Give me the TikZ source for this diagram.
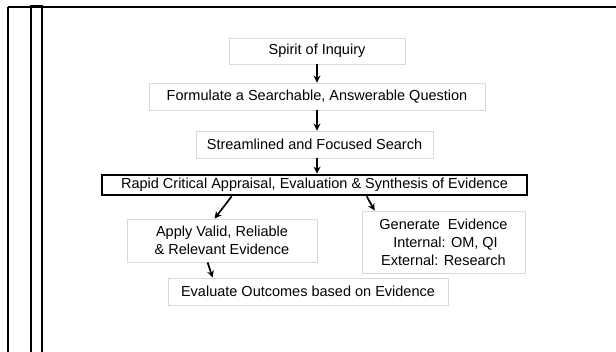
\documentclass[tikz,border=0pt]{standalone}
\usepackage{fontspec}
\setmainfont{Liberation Sans}
\usetikzlibrary{arrows.meta,calc}
\begin{document}
\begin{tikzpicture}[x=1pt,y=-1pt,
  box/.style={draw=black!15, line width=0.8pt, fill=white, inner sep=0pt, align=center,
     font=\fontsize{14.5pt}{18pt}\selectfont},
  arr/.style={line width=1.7pt, -{Stealth[length=7pt,width=7pt]}},
  frame/.style={line width=1.5pt}]
\useasboundingbox (0,0) rectangle (616,352);
% frame
\draw[frame, line width=2.2pt] (8,7) -- (616,7);
\draw[frame] (8,7) -- (8,352);
\draw[frame] (31,352) -- (31,5.5) -- (42,5.5) -- (42,352);
% nodes
\node[box, minimum width=176pt, minimum height=26pt] (spirit) at (317,51) {Spirit of Inquiry};
\node[box, minimum width=336pt, minimum height=27pt] (form) at (317,96.5) {Formulate a Searchable, Answerable Question};
\node[box, minimum width=237pt, minimum height=27pt] (stream) at (314.5,144.5) {Streamlined and Focused Search};
\node[box, draw=black, line width=2.6pt, minimum width=425pt, minimum height=20pt] (rapid) at (314.5,185) {Rapid Critical Appraisal, Evaluation \& Synthesis of Evidence};
\node[box, minimum width=190pt, minimum height=43pt] (apply) at (222,240.5) {Apply Valid, Reliable\\\& Relevant Evidence};
\node[box, minimum width=163pt, minimum height=62pt] (gen) at (443.5,242) {Generate\ \ Evidence\\\ Internal: OM, QI\\External: Research};
\node[box, minimum width=280pt, minimum height=27pt] (eval) at (308,291.5) {Evaluate Outcomes based on Evidence};
% connectors
\draw[arr] (spirit.south) -- (spirit.south |- form.north);
\draw[arr] (form.south) -- (form.south |- stream.north);
\draw[arr] (form.south |- stream.south) -- (form.south |- rapid.north);
\draw[arr] ([xshift=131pt]rapid.south west) -- ([xshift=88pt]apply.north west);
\draw[arr] ([xshift=266pt]rapid.south west) -- ([xshift=13pt]gen.north west);
\draw[arr] ([xshift=81pt]apply.south west) -- ([xshift=45pt]eval.north west);
\end{tikzpicture}
\end{document}
